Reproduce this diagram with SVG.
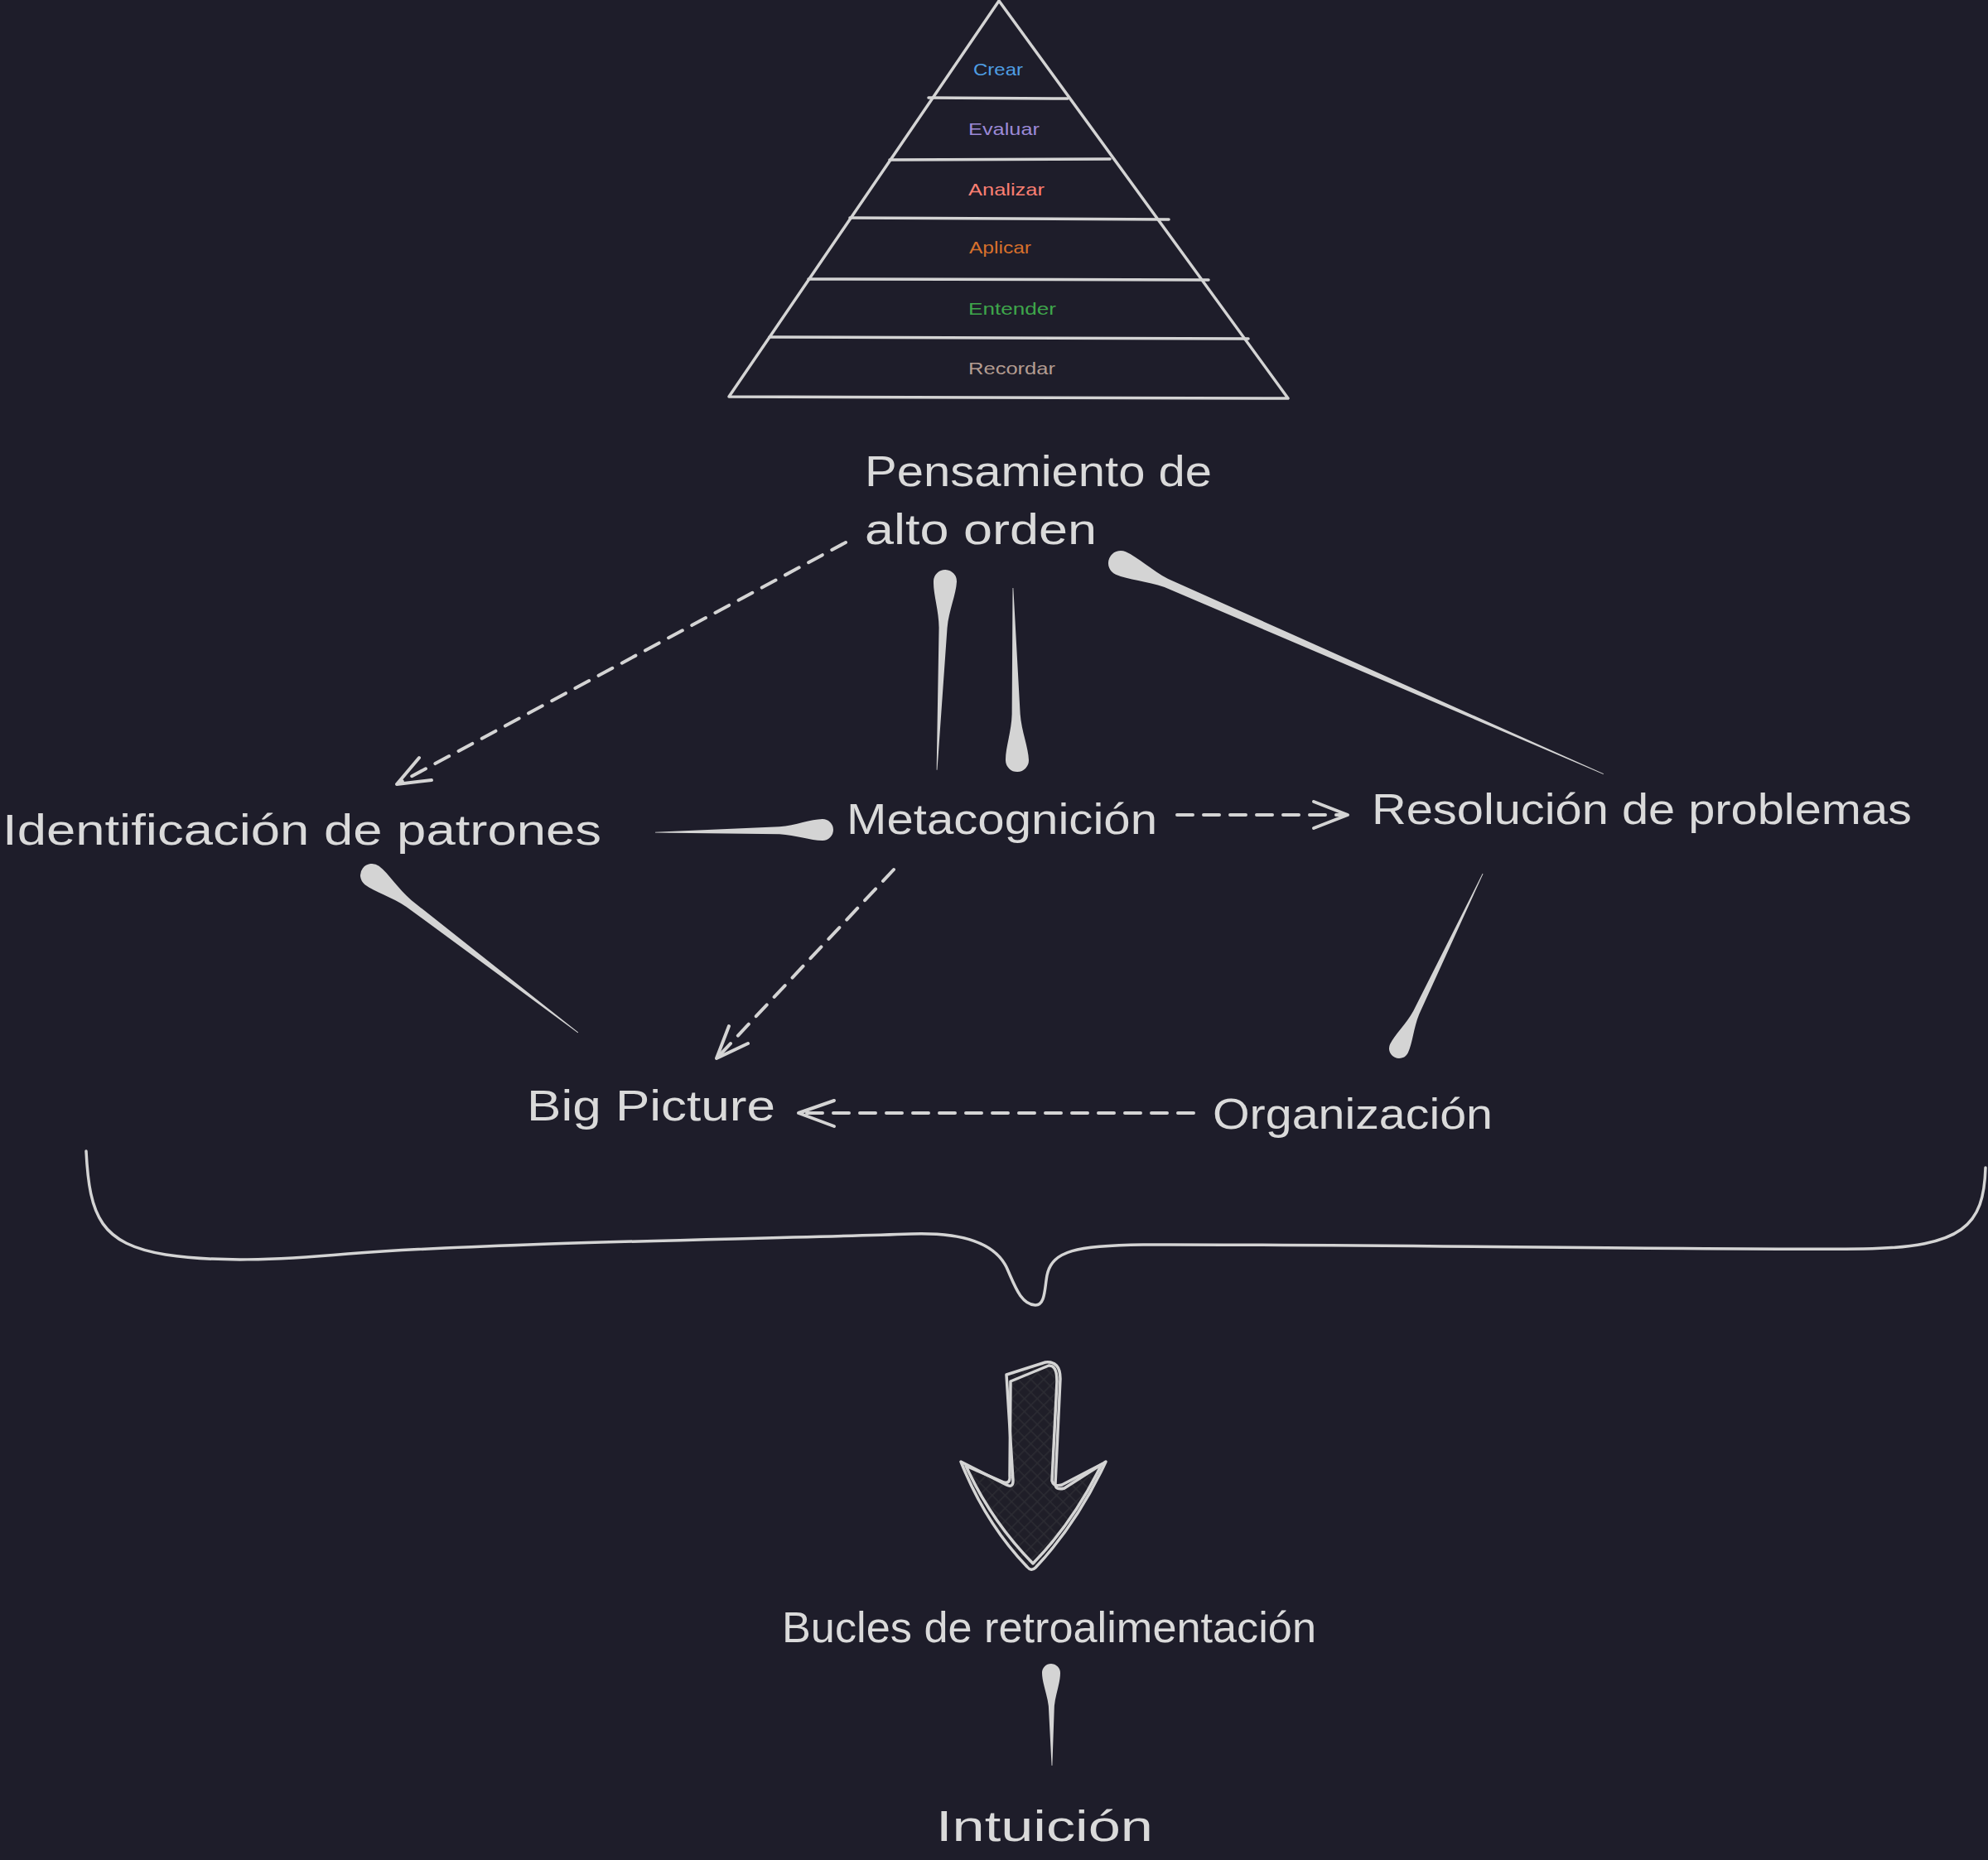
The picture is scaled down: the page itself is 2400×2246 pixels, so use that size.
<svg xmlns="http://www.w3.org/2000/svg" width="2400" height="2246" viewBox="0 0 2400 2246">
<style>
.bg{fill:#1e1d2a}
.ln{fill:none;stroke:#d4d4d4;stroke-width:3.5;stroke-linecap:round;stroke-linejoin:round}
.dash{fill:none;stroke:#d4d4d4;stroke-width:4;stroke-linecap:round;stroke-dasharray:19 13}
.head{fill:none;stroke:#d4d4d4;stroke-width:4;stroke-linecap:round;stroke-linejoin:round}
.taper{fill:#d4d4d4;stroke:none}
.t{font-family:"Liberation Sans","DejaVu Sans",sans-serif;font-size:52px;fill:#dadada}
.s{font-family:"Liberation Sans","DejaVu Sans",sans-serif;font-size:21px}
</style>
<defs>
<pattern id="hatch" width="11" height="11" patternUnits="userSpaceOnUse" patternTransform="rotate(45)">
<rect width="11" height="11" fill="#1f1e28"/>
<path d="M0,0 L0,11 M0,0 L11,0" stroke="#2c2c33" stroke-width="3"/>
</pattern>
</defs>
<rect class="bg" x="0" y="0" width="2400" height="2246"/>

<g id="pyramid">
<path class="ln" d="M1206,1 L1555,481 L880,479 Z"/>
<path class="ln" d="M1121,118 L1289,119"/>
<path class="ln" d="M1074,193 L1340,192"/>
<path class="ln" d="M1026,263 L1411,265"/>
<path class="ln" d="M976,337 L1459,338"/>
<path class="ln" d="M929,407 L1507,409"/>
<text class="s" x="1175" y="91" fill="#4f9ee3" textLength="60" lengthAdjust="spacingAndGlyphs">Crear</text>
<text class="s" x="1169" y="163" fill="#9c89d6" textLength="86" lengthAdjust="spacingAndGlyphs">Evaluar</text>
<text class="s" x="1169" y="236" fill="#fa7f72" textLength="92" lengthAdjust="spacingAndGlyphs">Analizar</text>
<text class="s" x="1170" y="306" fill="#d7702c" textLength="75" lengthAdjust="spacingAndGlyphs">Aplicar</text>
<text class="s" x="1169" y="380" fill="#3ea64b" textLength="106" lengthAdjust="spacingAndGlyphs">Entender</text>
<text class="s" x="1169" y="452" fill="#b39c91" textLength="105" lengthAdjust="spacingAndGlyphs">Recordar</text>
</g>

<g id="n-pensamiento">
<text class="t" x="1044" y="587" textLength="419" lengthAdjust="spacingAndGlyphs">Pensamiento de</text>
<text class="t" x="1044" y="657" textLength="280" lengthAdjust="spacingAndGlyphs">alto orden</text>
</g>
<g id="n-identificacion">
<text class="t" x="3" y="1020" textLength="723" lengthAdjust="spacingAndGlyphs">Identificación de patrones</text>
</g>
<g id="n-metacognicion">
<text class="t" x="1022" y="1007" textLength="375" lengthAdjust="spacingAndGlyphs">Metacognición</text>
</g>
<g id="n-resolucion">
<text class="t" x="1656" y="995" textLength="652" lengthAdjust="spacingAndGlyphs">Resolución de problemas</text>
</g>
<g id="n-bigpicture">
<text class="t" x="636" y="1353" textLength="300" lengthAdjust="spacingAndGlyphs">Big Picture</text>
</g>
<g id="n-organizacion">
<text class="t" x="1464" y="1363" textLength="338" lengthAdjust="spacingAndGlyphs">Organización</text>
</g>
<g id="n-bucles">
<text class="t" x="944" y="1983" textLength="645" lengthAdjust="spacingAndGlyphs">Bucles de retroalimentación</text>
</g>
<g id="n-intuicion">
<text class="t" x="1130" y="2223" textLength="262" lengthAdjust="spacingAndGlyphs">Intuición</text>
</g>

<g id="brace">
<path class="ln" stroke-width="5" d="M104,1390 C108,1470 122,1502 200,1515 C260,1524 330,1522 420,1514 C600,1500 900,1497 1100,1490 C1160,1488 1200,1500 1215,1530 C1225,1552 1232,1575 1250,1576 C1262,1576 1261,1556 1264,1540 C1270,1510 1300,1504 1380,1503 C1600,1502 2100,1510 2250,1508 C2370,1506 2395,1480 2397,1410"/>
</g>

<g id="big-arrow">
<path fill="url(#hatch)" stroke="none" d="M1215,1660 L1262,1645 Q1280,1643 1280,1665 L1274,1792 Q1274,1800 1285,1797 L1335,1765 Q1300,1840 1250,1893 Q1245,1898 1240,1892 Q1190,1840 1160,1765 L1215,1793 Q1223,1797 1223,1788 Z"/>
<path class="ln" stroke-width="3" d="M1215,1660 L1262,1645 Q1280,1643 1280,1665 L1274,1792 Q1274,1800 1285,1797 L1335,1765 Q1300,1840 1250,1893 Q1245,1898 1240,1892 Q1190,1840 1160,1765 L1215,1793 Q1223,1797 1223,1788 Z"/>
<path class="ln" stroke-width="2.5" d="M1220,1668 L1266,1649 Q1276,1648 1276,1668 L1270,1788 Q1272,1796 1282,1793 L1330,1768 Q1296,1838 1247,1888 Q1196,1836 1166,1770 L1212,1790 Q1220,1792 1219,1782 Z"/>
</g>

<g id="connectors">
<path class="taper" transform="translate(1141,702) rotate(92.5)" d="M0,-14 A14,14 0 0 0 0,14 C15,14 35,6 56,5 L228,0.4 L228,-0.4 L56,-5 C35,-6 15,-14 0,-14 Z"/>
<path class="taper" transform="translate(1228,918) rotate(-91.4)" d="M0,-14 A14,14 0 0 0 0,14 C15,14 35,6 56,5 L208,0.4 L208,-0.4 L56,-5 C35,-6 15,-14 0,-14 Z"/>
<path class="taper" transform="translate(1353,680) rotate(23.6)" d="M0,-15 A15,15 0 0 0 0,15 C16,15 38,7 60,5.5 L636,0.4 L636,-0.4 L60,-5.5 C38,-7 16,-15 0,-15 Z"/>
<path class="taper" transform="translate(993,1002) rotate(179.1)" d="M0,-13 A13,13 0 0 0 0,13 C14,13 32,6 52,4.5 L202,0.4 L202,-0.4 L52,-4.5 C32,-6 14,-13 0,-13 Z"/>
<path class="taper" transform="translate(449,1057) rotate(37.35)" d="M0,-14 A14,14 0 0 0 0,14 C15,14 35,6 56,5 L313,0.4 L313,-0.4 L56,-5 C35,-6 15,-14 0,-14 Z"/>
<path class="taper" transform="translate(1689,1266) rotate(-64.4)" d="M0,-12 A12,12 0 0 0 0,12 C13,12 30,5 48,4 L234,0.4 L234,-0.4 L48,-4 C30,-5 13,-12 0,-12 Z"/>
<path class="taper" transform="translate(1269,2020) rotate(89.5)" d="M0,-11 A11,11 0 0 0 0,11 C12,11 26,5 40,3.5 L112,0.4 L112,-0.4 L40,-3.5 C26,-5 12,-11 0,-11 Z"/>

<path class="dash" d="M1021,655 L481,946"/>
<path class="head" d="M521,942 L479,947 L506,915"/>
<path class="dash" d="M1421,984 L1623,984"/>
<path class="head" d="M1586,968 L1627,984 L1586,1000"/>
<path class="dash" d="M1079,1050 L867,1276"/>
<path class="head" d="M903,1260 L865,1278 L880,1239"/>
<path class="dash" d="M1441,1344 L968,1344"/>
<path class="head" d="M1007,1329 L964,1344 L1007,1360"/>
</g>
</svg>
